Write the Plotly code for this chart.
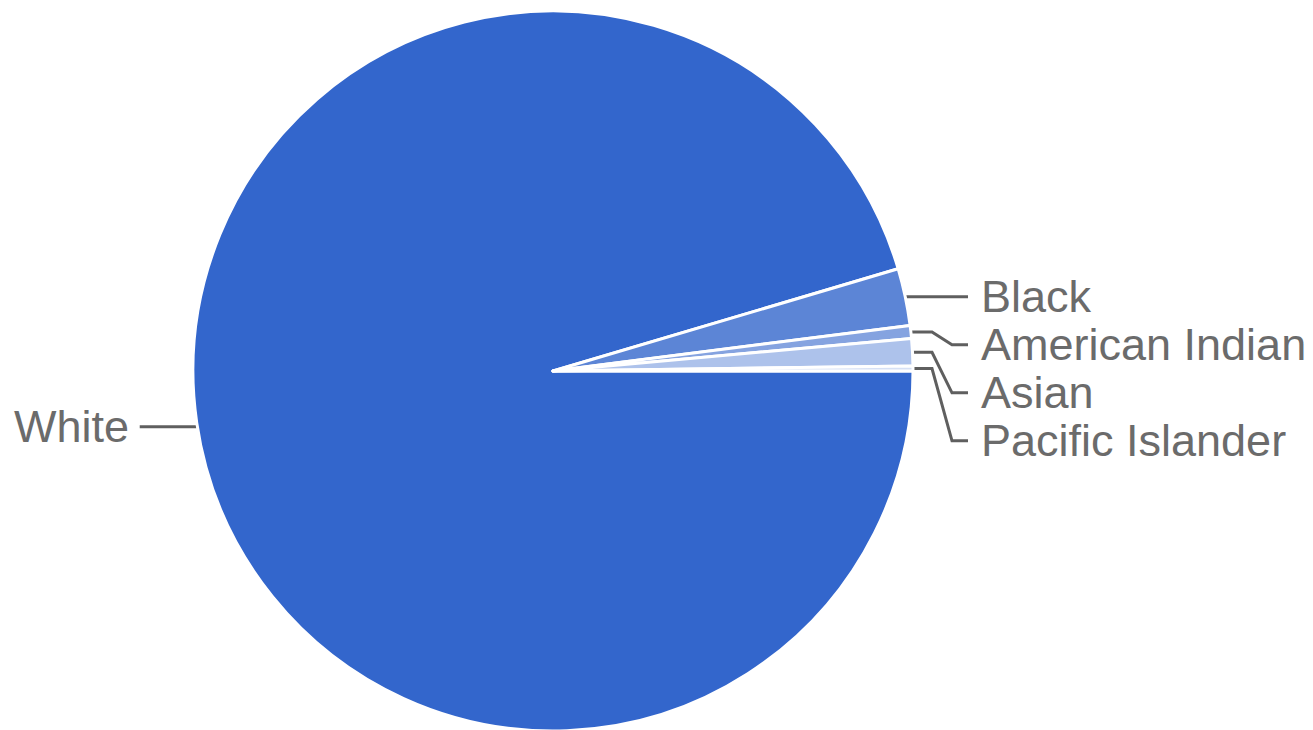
import math
import plotly.graph_objects as go

# ---- data ----
labels = ["White", "Black", "American Indian", "Asian", "Pacific Islander"]
values = [95.4, 2.56, 0.58, 1.22, 0.22]
colors = ["#3366cc", "#5c85d6", "#85a3e0", "#adc2eb", "#d6e0f5"]

# ---- layout geometry (pixels, in screenshot coordinates) ----
W, H = 1313, 730
OFF = 8  # page body margin offset
CX, CY, R = 553, 371, 360
TEXT_COLOR = "#6b6b6b"
LINE_COLOR = "#5f5f5f"
FONT = "Liberation Sans, Arial, sans-serif"
FS = 45
GAP = 48

fig = go.Figure()

px0 = (CX - R - OFF) / W
px1 = (CX + R - OFF) / W
py0 = max(0, 1 - (CY + R - OFF) / H)
py1 = min(1, 1 - (CY - R - OFF) / H)

fig.add_trace(go.Pie(
    labels=labels, values=values, sort=False, direction="clockwise", rotation=90,
    marker=dict(colors=colors, line=dict(color="white", width=3)),
    textinfo="none", hoverinfo="label+percent",
    domain=dict(x=[px0, px1], y=[py0, py1]),
    showlegend=False,
))

# compute mid angles (clockwise from 3 o'clock)
total = sum(values)
acc = 0.0
mids = []
for v in values:
    a0 = acc / total * 360
    acc += v
    a1 = acc / total * 360
    mids.append((a0 + a1) / 2)

right = []
left = []
for lab, c in zip(labels, mids):
    ex = CX + R * math.cos(math.radians(c))
    ey = CY + R * math.sin(math.radians(c))
    if ex >= CX:
        right.append([lab, ex, ey])
    else:
        left.append([lab, ex, ey])

annotations = []
right.sort(key=lambda t: t[2])
prev = -1e9
for lab, ex, ey in right:
    ly = max(ey, prev + GAP)
    prev = ly
    if abs(ly - ey) < 1:
        xs, ys = [ex, 968], [ey, ey]
    else:
        xs, ys = [ex, 932, 952, 968], [ey, ey, ly, ly]
    fig.add_trace(go.Scatter(x=xs, y=ys, mode="lines", line=dict(color=LINE_COLOR, width=3),
                             hoverinfo="skip", showlegend=False))
    annotations.append(dict(x=979, y=ly, xref="x", yref="y", text=lab, showarrow=False,
                            xanchor="left", yanchor="middle",
                            font=dict(family=FONT, size=FS, color=TEXT_COLOR)))

for lab, ex, ey in left:
    fig.add_trace(go.Scatter(x=[ex, ex - 57], y=[ey + 4, ey + 4], mode="lines",
                             line=dict(color=LINE_COLOR, width=3),
                             hoverinfo="skip", showlegend=False))
    annotations.append(dict(x=ex - 66, y=ey + 4, xref="x", yref="y", text=lab, showarrow=False,
                            xanchor="right", yanchor="middle",
                            font=dict(family=FONT, size=FS, color=TEXT_COLOR)))

fig.update_layout(
    width=W, height=H,
    margin=dict(l=0, r=0, t=0, b=0),
    paper_bgcolor="white", plot_bgcolor="rgba(0,0,0,0)",
    xaxis=dict(range=[OFF, W + OFF], visible=False, fixedrange=True, domain=[0, 1]),
    yaxis=dict(range=[H + OFF, OFF], visible=False, fixedrange=True, domain=[0, 1]),
    annotations=annotations,
    showlegend=False,
)

fig.write_html("out.html")
